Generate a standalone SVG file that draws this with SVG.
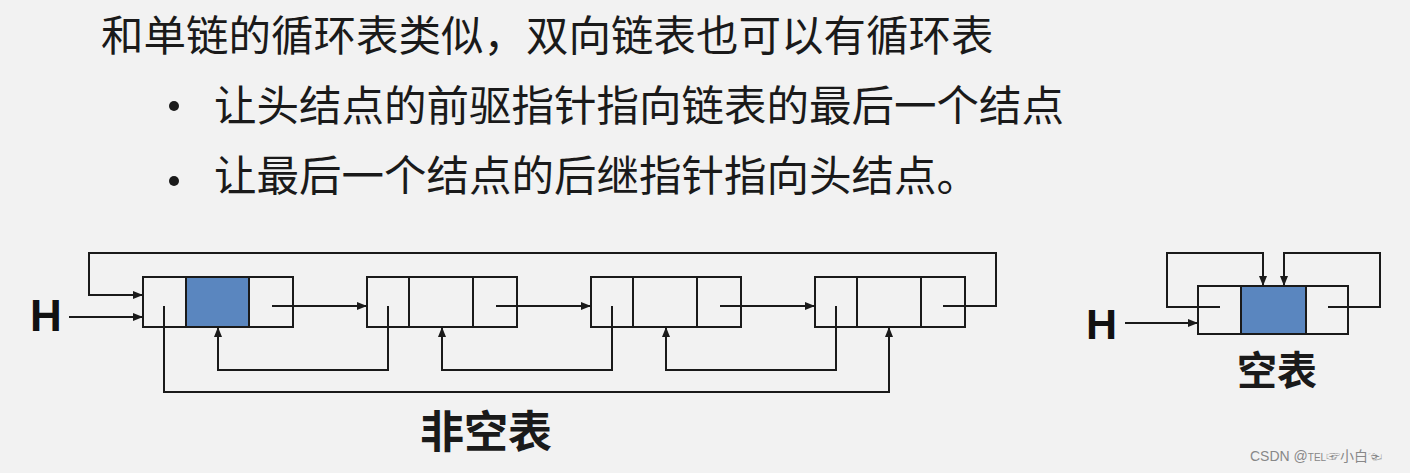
<svg xmlns="http://www.w3.org/2000/svg" width="1410" height="473" viewBox="0 0 1410 473">
<defs>
<marker id="ah" markerWidth="10" markerHeight="8" refX="10" refY="4" orient="auto" markerUnits="userSpaceOnUse"><path d="M0,0 L10,4 L0,8 z" fill="#1a1a1a"/></marker>
</defs>
<style>
.cell{fill:#f2f2f2;stroke:#1a1a1a;stroke-width:2}
.data{fill:#5a86bf;stroke:#1a1a1a;stroke-width:2}
.con{fill:none;stroke:#1a1a1a;stroke-width:2;marker-end:url(#ah)}
.cjk{font-family:"Noto Sans CJK SC","Noto Sans",sans-serif;fill:#1a1a1a}
.h{font-family:"Liberation Sans",Arial,sans-serif;font-weight:bold;fill:#111}
</style>
<rect width="1410" height="473" fill="#f2f2f2"/>
<g id="text">
<text class="cjk" x="101" y="51" font-size="42.5">和单链的循环表类似，双向链表也可以有循环表</text>
<circle cx="174" cy="106" r="5" fill="#1a1a1a"/>
<text class="cjk" x="214" y="121" font-size="42.5">让头结点的前驱指针指向链表的最后一个结点</text>
<circle cx="174" cy="181" r="5" fill="#1a1a1a"/>
<text class="cjk" x="214" y="191" font-size="42.5">让最后一个结点的后继指针指向头结点。</text>
</g>
<g id="node1"><rect class="cell" x="143" y="277" width="150" height="50"/><rect class="data" x="186" y="277" width="63" height="50"/></g>
<g id="node2"><rect class="cell" x="367" y="277" width="150" height="50"/><path d="M409,277 V327 M473,277 V327" stroke="#1a1a1a" stroke-width="2"/></g>
<g id="node3"><rect class="cell" x="591" y="277" width="150" height="50"/><path d="M633,277 V327 M697,277 V327" stroke="#1a1a1a" stroke-width="2"/></g>
<g id="node4"><rect class="cell" x="815" y="277" width="150" height="50"/><path d="M857,277 V327 M921,277 V327" stroke="#1a1a1a" stroke-width="2"/></g>
<g id="empty"><rect class="cell" x="1198" y="286" width="150" height="48"/><rect class="data" x="1241" y="286" width="65" height="48"/></g>
<g id="labels">
<text class="h" x="30" y="331" font-size="44">H</text>
<text class="h" x="1086" y="339" font-size="43">H</text>
<text class="cjk" x="486" y="448" font-size="44" font-weight="bold" text-anchor="middle">非空表</text>
<text class="cjk" x="1277" y="385" font-size="40" font-weight="bold" text-anchor="middle">空表</text>
<text x="1250" y="461" font-size="14" font-family="Liberation Sans,'Noto Sans CJK SC',sans-serif" fill="#888">CSDN @<tspan font-size="10">TEL</tspan>☞小白☜</text>
</g>
<g id="connectors">
<path class="con" d="M69,317 H143"/>
<path class="con" d="M943,306 H996 V253 H89 V295 H143"/>
<path class="con" d="M272,306 H367"/>
<path class="con" d="M496,306 H591"/>
<path class="con" d="M720,306 H815"/>
<path class="con" d="M388,306 V370 H218 V327"/>
<path class="con" d="M612,306 V370 H442 V327"/>
<path class="con" d="M836,306 V370 H666 V327"/>
<path class="con" d="M164,306 V392 H889 V327"/>
<path class="con" d="M1125,323 H1198"/>
<path class="con" d="M1220,307 H1167 V253 H1263 V286"/>
<path class="con" d="M1328,307 H1380 V253 H1284 V286"/>
</g>
</svg>
